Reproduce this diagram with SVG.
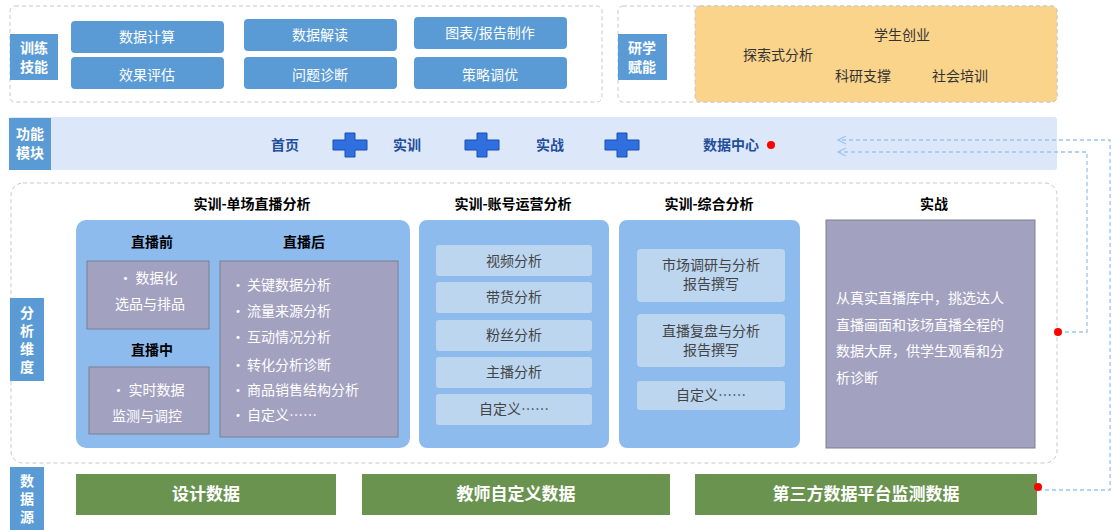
<svg xmlns="http://www.w3.org/2000/svg" width="1118" height="530" viewBox="0 0 1118 530">
<style>
text{font-family:"Noto Sans CJK SC","Noto Sans",sans-serif}
.dash{fill:#fff;stroke:#c8c8c8;stroke-dasharray:4 3}
.lab{fill:#5b9bd5}
.labt{fill:#fff;font-size:14px;font-weight:bold;text-anchor:middle}
.skill{fill:#5b9bd5}
.skt{fill:#fff;font-size:14px;text-anchor:middle}
.ft{fill:#1f4e9a;font-size:14px;font-weight:bold;text-anchor:middle}
.h{fill:#000;font-size:14px;font-weight:bold;text-anchor:middle}
.big{fill:#8ebbee}
.pur{fill:#a3a1c0;stroke:#7a8090}
.pt{fill:#fff;font-size:14px}
.item{fill:#bcd6f0}
.it{fill:#444;font-size:14px;text-anchor:middle}
.grn{fill:#6a934f}
.gt{fill:#fff;font-size:17px;font-weight:bold;text-anchor:middle}
.conn{fill:none;stroke:#9cc3f0;stroke-width:1.3;stroke-dasharray:4 3}
.ot{fill:#333;font-size:14px;text-anchor:middle}
</style>
<defs>
<marker id="arr" markerWidth="10" markerHeight="10" refX="9" refY="5" orient="auto" markerUnits="userSpaceOnUse"><path d="M1,1 L9,5 L1,9" fill="none" stroke="#9cc3f0" stroke-width="1.2"/></marker>
<path id="plus" d="M-5,-12h10v7h12v10h-12v7h-10v-7h-12v-10h12z" fill="#2f6fe0" stroke="#1a4fb0" stroke-width="1"/>
</defs>
<rect width="1118" height="530" fill="#fff"/>

<g id="skills">
<rect class="dash" x="10" y="6" width="592" height="96" rx="5"/>
<rect class="lab" x="10" y="34" width="48" height="46"/>
<text class="labt" x="34" y="53">训练</text><text class="labt" x="34" y="72">技能</text>
<rect class="skill" x="71" y="21" width="153" height="32" rx="4"/><text class="skt" x="147" y="42">数据计算</text>
<rect class="skill" x="244" y="19" width="153" height="32" rx="4"/><text class="skt" x="320" y="40">数据解读</text>
<rect class="skill" x="414" y="17" width="153" height="32" rx="4"/><text class="skt" x="490" y="38">图表/报告制作</text>
<rect class="skill" x="71" y="57" width="153" height="32" rx="4"/><text class="skt" x="147" y="80">效果评估</text>
<rect class="skill" x="244" y="57" width="153" height="32" rx="4"/><text class="skt" x="320" y="80">问题诊断</text>
<rect class="skill" x="414" y="57" width="153" height="32" rx="4"/><text class="skt" x="490" y="80">策略调优</text>
</g>

<g id="research">
<rect class="dash" x="618" y="6" width="439" height="96" rx="5"/>
<rect x="695" y="6" width="362" height="96" rx="5" fill="#fbd48b" stroke="#c8c8c8" stroke-dasharray="4 3"/>
<rect class="lab" x="618" y="34" width="49" height="46"/>
<text class="labt" x="642" y="53">研学</text><text class="labt" x="642" y="72">赋能</text>
<text class="ot" x="902" y="40">学生创业</text>
<text class="ot" x="778" y="60">探索式分析</text>
<text class="ot" x="863" y="81">科研支撑</text>
<text class="ot" x="960" y="81">社会培训</text>
</g>

<g id="modules">
<rect x="9" y="117" width="1048" height="53" rx="3" fill="#dce8fa"/>
<rect class="lab" x="9" y="118" width="42" height="52"/>
<text class="labt" x="30" y="139">功能</text><text class="labt" x="30" y="158">模块</text>
<text class="ft" x="285" y="150">首页</text>
<use href="#plus" x="350" y="145"/>
<text class="ft" x="407" y="150">实训</text>
<use href="#plus" x="482" y="145"/>
<text class="ft" x="550" y="150">实战</text>
<use href="#plus" x="622" y="145"/>
<text class="ft" x="731" y="150">数据中心</text>
<circle cx="771" cy="145" r="4" fill="#f00"/>
</g>

<g id="analysis">
<rect class="dash" x="11" y="183" width="1046" height="280" rx="12"/>
<rect class="lab" x="10" y="298" width="34" height="83"/>
<text class="labt" x="27" y="318">分</text><text class="labt" x="27" y="336">析</text><text class="labt" x="27" y="354">维</text><text class="labt" x="27" y="372">度</text>
</g>

<g id="single">
<text class="h" x="252" y="209">实训-单场直播分析</text>
<rect class="big" x="76" y="220" width="334" height="228" rx="10"/>
<text class="h" x="152" y="247" fill="#333">直播前</text>
<rect class="pur" x="87" y="261" width="122" height="68"/>
<text class="pt" x="148" y="283" text-anchor="middle">•  数据化</text>
<text class="pt" x="150" y="309" text-anchor="middle">选品与排品</text>
<text class="h" x="152" y="355">直播中</text>
<rect class="pur" x="89" y="367" width="120" height="67"/>
<text class="pt" x="148" y="395" text-anchor="middle">•  实时数据</text>
<text class="pt" x="147" y="421" text-anchor="middle">监测与调控</text>
<text class="h" x="304" y="247">直播后</text>
<rect class="pur" x="220" y="261" width="178" height="176"/>
<g class="pt">
<text x="231" y="290">•</text><text x="247" y="290">关键数据分析</text>
<text x="231" y="316">•</text><text x="247" y="316">流量来源分析</text>
<text x="231" y="342">•</text><text x="247" y="342">互动情况分析</text>
<text x="231" y="370">•</text><text x="247" y="370">转化分析诊断</text>
<text x="231" y="395">•</text><text x="247" y="395">商品销售结构分析</text>
<text x="231" y="420">•</text><text x="247" y="420">自定义……</text>
</g>
</g>

<g id="account">
<text class="h" x="513" y="209">实训-账号运营分析</text>
<rect class="big" x="419" y="220" width="190" height="228" rx="8"/>
<rect class="item" x="436" y="245" width="156" height="31" rx="3"/><text class="it" x="514" y="266">视频分析</text>
<rect class="item" x="436" y="282" width="156" height="31" rx="3"/><text class="it" x="514" y="302">带货分析</text>
<rect class="item" x="436" y="320" width="156" height="31" rx="3"/><text class="it" x="514" y="340">粉丝分析</text>
<rect class="item" x="436" y="357" width="156" height="31" rx="3"/><text class="it" x="514" y="377">主播分析</text>
<rect class="item" x="436" y="394" width="156" height="31" rx="3"/><text class="it" x="514" y="414">自定义……</text>
</g>

<g id="synthesis">
<text class="h" x="709" y="209">实训-综合分析</text>
<rect class="big" x="619" y="220" width="181" height="228" rx="8"/>
<rect class="item" x="637" y="249" width="148" height="53" rx="4"/><text class="it" x="711" y="270">市场调研与分析</text><text class="it" x="711" y="289">报告撰写</text>
<rect class="item" x="637" y="314" width="148" height="53" rx="4"/><text class="it" x="711" y="336">直播复盘与分析</text><text class="it" x="711" y="355">报告撰写</text>
<rect class="item" x="637" y="381" width="148" height="29" rx="3"/><text class="it" x="711" y="400">自定义……</text>
</g>

<g id="combat">
<text class="h" x="934" y="209">实战</text>
<rect class="pur" x="826" y="220" width="209" height="228"/>
<g class="pt">
<text x="836" y="303">从真实直播库中，挑选达人</text>
<text x="836" y="330">直播画面和该场直播全程的</text>
<text x="836" y="356">数据大屏，供学生观看和分</text>
<text x="836" y="383">析诊断</text>
</g>
</g>

<g id="sources">
<rect class="lab" x="10" y="467" width="34" height="63"/>
<text class="labt" x="27" y="486">数</text><text class="labt" x="27" y="504">据</text><text class="labt" x="27" y="522">源</text>
<rect class="grn" x="76" y="474" width="260" height="41"/><text class="gt" x="206" y="500">设计数据</text>
<rect class="grn" x="362" y="474" width="308" height="41"/><text class="gt" x="516" y="500">教师自定义数据</text>
<rect class="grn" x="695" y="474" width="342" height="41"/><text class="gt" x="866" y="500">第三方数据平台监测数据</text>
</g>

<g id="connectors">
<path class="conn" d="M1058,332 H1087 V152 H838" marker-end="url(#arr)"/>
<path class="conn" d="M1038,490 H1110 V140 H838" marker-end="url(#arr)"/>
<circle cx="1058" cy="332" r="4" fill="#f00"/>
<circle cx="1038" cy="487" r="4" fill="#f00"/>
</g>
</svg>
